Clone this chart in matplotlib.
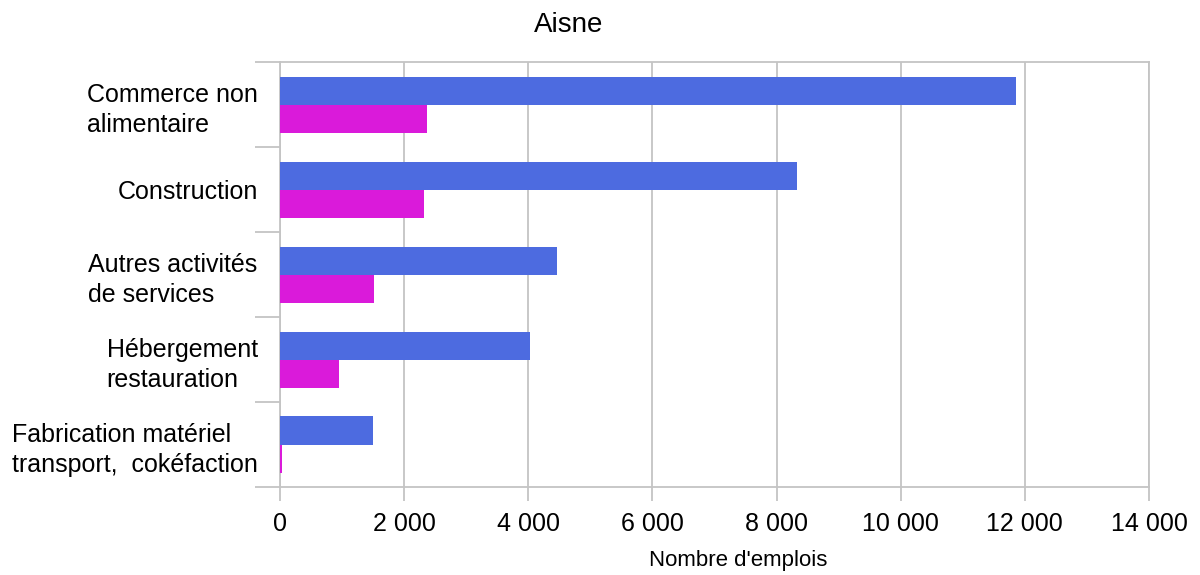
import matplotlib.pyplot as plt
from matplotlib.ticker import FuncFormatter

plt.rcParams['font.family'] = ['Liberation Sans', 'DejaVu Sans']

categories = ['Commerce non\nalimentaire', 'Construction', 'Autres activités\nde services',
              'Hébergement\nrestauration', 'Fabrication matériel\ntransport,  cokéfaction']
serie_bleue = [11850, 8330, 4460, 4030, 1500]
serie_rose = [2370, 2320, 1510, 950, 30]

bleu = '#4d6be0'
rose = '#da1ada'
gris = '#c4c4c4'

fig = plt.figure(figsize=(12, 5.75), dpi=100)
ax = fig.add_axes([0.2333, 0.153, 0.7242, 0.739])

n = len(categories)
pos = [n - 1 - i for i in range(n)]
h = 0.33
ax.barh([p + h / 2 for p in pos], serie_bleue, height=h, color=bleu, zorder=3)
ax.barh([p - h / 2 for p in pos], serie_rose, height=h, color=rose, zorder=3)

ax.set_xlim(0, 14000)
ax.set_ylim(-0.5, n - 0.5)
ax.set_xticks(range(0, 14001, 2000))
ax.xaxis.set_major_formatter(FuncFormatter(lambda v, _: f'{int(v):,}'.replace(',', ' ')))
ax.grid(axis='x', color=gris, linewidth=1.3, zorder=0)

# category labels sit between the separator ticks
ax.set_yticks([p + 0.5 for p in range(-1, n)])
ax.set_yticklabels([])
ax.set_yticks(pos, minor=True)
ax.set_yticklabels(categories, minor=True, fontsize=18, linespacing=1.3)
for lab in ax.get_yticklabels(minor=True):
    lab.set_multialignment('left')
ax.tick_params(axis='y', which='minor', length=0, pad=16)
ax.tick_params(axis='y', which='major', length=18, color=gris, width=1.3)
ax.tick_params(axis='x', length=10, color=gris, width=1.3, labelsize=18, pad=8)

for s in ax.spines.values():
    s.set_color(gris)
    s.set_linewidth(1.3)

fig.text(0.474, 0.957, 'Aisne', ha='center', va='center', fontsize=20)
fig.text(0.615, 0.026, "Nombre d'emplois", ha='center', va='center', fontsize=16)

fig.savefig('out.png', dpi=100)
